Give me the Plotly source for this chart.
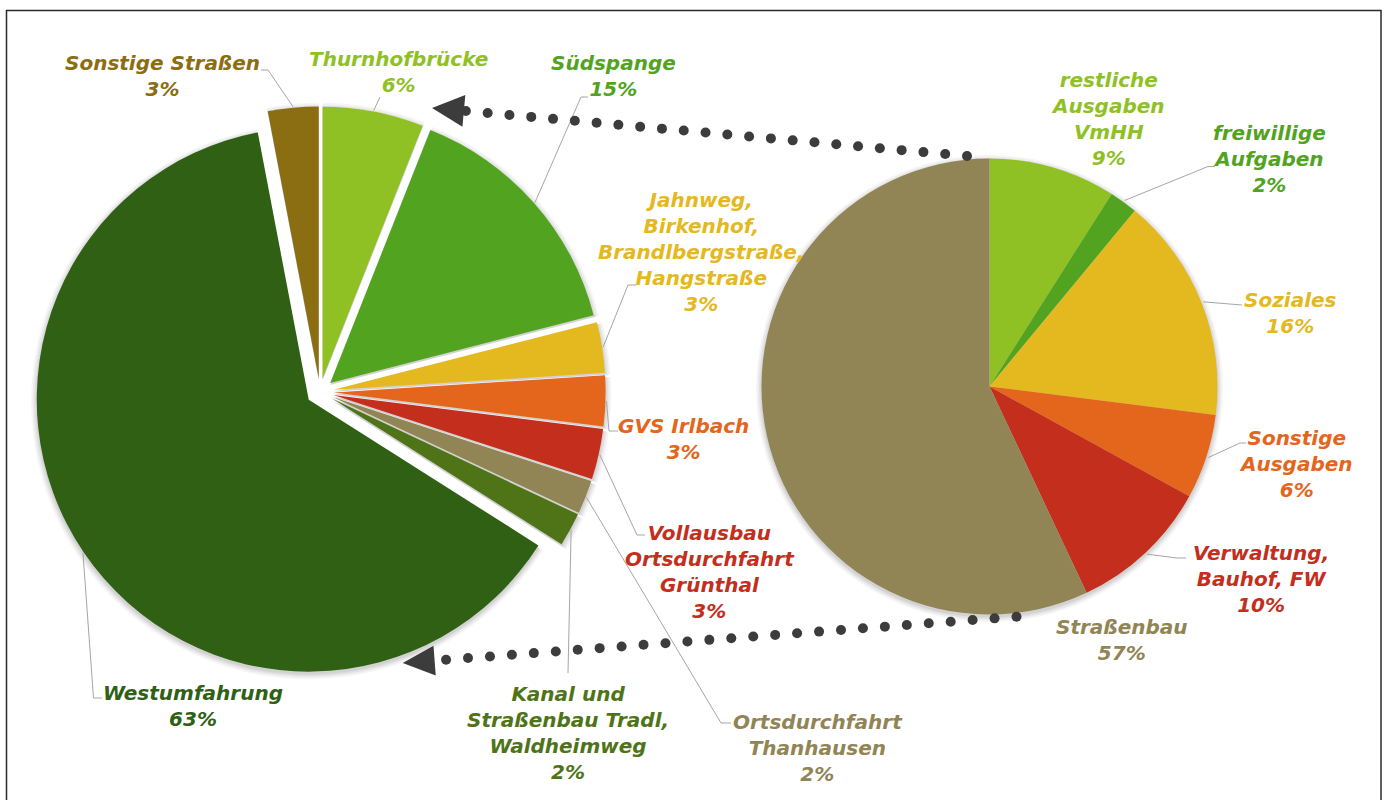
import math
import plotly.graph_objects as go

W, H = 1392, 800
OFF = 0  # body margin removed via post_script

# ---------------- data ----------------
left_labels = ["Thurnhofbrücke", "Südspange",
               "Jahnweg,<br>Birkenhof,<br>Brandlbergstraße,<br>Hangstraße",
               "GVS Irlbach", "Vollausbau<br>Ortsdurchfahrt<br>Grünthal",
               "Ortsdurchfahrt<br>Thanhausen",
               "Kanal und<br>Straßenbau Tradl,<br>Waldheimweg",
               "Westumfahrung", "Sonstige Straßen"]
left_values = [6, 15, 3, 3, 3, 2, 2, 63, 3]
left_colors = ["#8FC125", "#52A31F", "#E4B81F", "#E4661C", "#C42E1C",
               "#918455", "#4F7418", "#306014", "#8B6D12"]

right_labels = ["restliche<br>Ausgaben<br>VmHH", "freiwillige<br>Aufgaben",
                "Soziales", "Sonstige<br>Ausgaben", "Verwaltung,<br>Bauhof, FW",
                "Straßenbau"]
right_values = [9, 2, 16, 6, 10, 57]
right_colors = ["#8FC125", "#52A31F", "#E4B81F", "#E4661C", "#C42E1C", "#918455"]

# ---------------- layout constants (pixels in the screenshot) ----------------
L_CX, L_CY, L_R, L_PULL = 320, 392, 272, 0.05
R_CX, R_CY, R_R = 989.5, 386.5, 228

# label centres
left_label_pos = [(398, 72), (613, 76), (701, 251.5), (683.5, 439), (709.5, 571.5),
                  (818.5, 747.5), (567.5, 733), (193, 706), (162, 76.5)]
right_label_pos = [(1107.5, 119), (1269.5, 158.5), (1290, 312.5), (1296, 464),
                   (1261, 579), (1121.5, 639.5)]
# leader line bends (after the start on the pie edge); None = no leader
left_leaders = [[(380, 97)], [(581, 97), (588, 97)], [(628, 285), (636, 285)],
                [(609, 431), (618, 431)], [(637, 535), (645, 535)],
                [(721, 723), (731, 723)], [(568, 673)], [(93.5, 698), (102, 698)],
                [(268, 70), (261, 70)]]
right_leaders = [None, [(1208, 166.5), (1215, 166.5)], [(1242, 305)],
                 [(1240, 443), (1246, 443)], [(1177, 558), (1186, 558)], None]

FONT = dict(family="DejaVu Sans", size=20, weight="bold", style="italic")


def px(x):
    return (x - OFF) / W


def py(y):
    return 1 - (y - OFF) / H


def edge_point(values, i, cx, cy, r, pull, extra=0):
    total = sum(values)
    start = sum(values[:i]) / total * 360
    mid = math.radians(start + values[i] / total * 180)
    ux, uy = math.sin(mid), -math.cos(mid)
    vx, vy = cx + pull * r * ux, cy + pull * r * uy
    return vx + (r + extra) * ux, vy + (r + extra) * uy


def pie_domain(cx, cy, r, pull):
    half = r * (1 + pull)
    return dict(x=[px(cx - half), px(cx + half)], y=[py(cy + half), py(cy - half)])


fig = go.Figure()

# soft shadows
for k, a in [(5.5, 0.035), (4, 0.04), (2.5, 0.05), (1, 0.06)]:
    fig.add_trace(go.Pie(values=left_values, pull=[L_PULL] * len(left_values), sort=False,
                         direction="clockwise", rotation=0, textinfo="none", hoverinfo="skip",
                         showlegend=False,
                         marker=dict(colors=[f"rgba(0,0,0,{a})"] * len(left_values),
                                     line=dict(width=0)),
                         domain=pie_domain(L_CX, L_CY + 2, L_R + k, L_PULL)))
    fig.add_trace(go.Pie(values=right_values, sort=False,
                         direction="clockwise", rotation=0, textinfo="none", hoverinfo="skip",
                         showlegend=False,
                         marker=dict(colors=[f"rgba(0,0,0,{a})"] * len(right_values),
                                     line=dict(width=0)),
                         domain=pie_domain(R_CX, R_CY + 2, R_R + k, 0)))

fig.add_trace(go.Pie(labels=left_labels, values=left_values, pull=[L_PULL] * len(left_values),
                     sort=False, direction="clockwise", rotation=0, textinfo="none",
                     showlegend=False, marker=dict(colors=left_colors, line=dict(width=0)),
                     domain=pie_domain(L_CX, L_CY, L_R, L_PULL)))
fig.add_trace(go.Pie(labels=right_labels, values=right_values, sort=False,
                     direction="clockwise", rotation=0, textinfo="none",
                     showlegend=False, marker=dict(colors=right_colors, line=dict(width=0)),
                     domain=pie_domain(R_CX, R_CY, R_R, 0)))

shapes = []
annotations = []

# frame
shapes.append(dict(type="rect", xref="paper", yref="paper", x0=px(6.5), x1=px(1381),
                   y0=py(812), y1=py(10.5), line=dict(color="#2A2A2A", width=1.5)))


def add_leader(pts):
    path = "M " + " L ".join(f"{px(x):.5f},{py(y):.5f}" for x, y in pts)
    shapes.append(dict(type="path", xref="paper", yref="paper", path=path,
                       line=dict(color="#A6A6A6", width=1)))


for i, lab in enumerate(left_labels):
    if left_leaders[i]:
        s = edge_point(left_values, i, L_CX, L_CY, L_R, L_PULL, 1)
        add_leader([s] + left_leaders[i])
    x, y = left_label_pos[i]
    annotations.append(dict(x=px(x), y=py(y), xref="paper", yref="paper", showarrow=False,
                            xanchor="center", yanchor="middle", align="center",
                            text=f"{lab}<br>{left_values[i]}%",
                            font=dict(FONT, color=left_colors[i])))

for i, lab in enumerate(right_labels):
    if right_leaders[i]:
        s = edge_point(right_values, i, R_CX, R_CY, R_R, 0, 2)
        add_leader([s] + right_leaders[i])
    x, y = right_label_pos[i]
    annotations.append(dict(x=px(x), y=py(y), xref="paper", yref="paper", showarrow=False,
                            xanchor="center", yanchor="middle", align="center",
                            text=f"{lab}<br>{right_values[i]}%",
                            font=dict(FONT, color=right_colors[i])))


# dotted arrows
def dotted_arrow(tail, tip, n, last_gap, dot=10, head_len=32, head_half=16, color="#3C3C3C"):
    tx, ty = tail
    hx, hy = tip
    dx, dy = hx - tx, hy - ty
    length = math.hypot(dx, dy)
    ux, uy = dx / length, dy / length
    span = length - last_gap
    for j in range(n):
        s = span * j / (n - 1)
        cx, cy = tx + ux * s, ty + uy * s
        shapes.append(dict(type="circle", xref="paper", yref="paper",
                           x0=px(cx - dot / 2), x1=px(cx + dot / 2),
                           y0=py(cy + dot / 2), y1=py(cy - dot / 2),
                           fillcolor=color, line=dict(width=0)))
    bx, by = hx - ux * head_len, hy - uy * head_len
    nx, ny = -uy, ux
    p1 = (bx + nx * head_half, by + ny * head_half)
    p2 = (bx - nx * head_half, by - ny * head_half)
    path = (f"M {px(hx):.5f},{py(hy):.5f} L {px(p1[0]):.5f},{py(p1[1]):.5f} "
            f"L {px(p2[0]):.5f},{py(p2[1]):.5f} Z")
    shapes.append(dict(type="path", xref="paper", yref="paper", path=path,
                       fillcolor=color, line=dict(width=0)))


dotted_arrow((967, 156), (432, 108), 24, 34)
dotted_arrow((1016.5, 616.7), (402.7, 663), 27, 43.5, head_half=15)

fig.update_layout(width=W, height=H, margin=dict(l=0, r=0, t=0, b=0),
                  paper_bgcolor="white", plot_bgcolor="white",
                  shapes=shapes, annotations=annotations, showlegend=False)

fig.write_html("out.html", config={"displayModeBar": False},
               post_script="document.body.style.margin='0';document.body.style.overflow='hidden';")
